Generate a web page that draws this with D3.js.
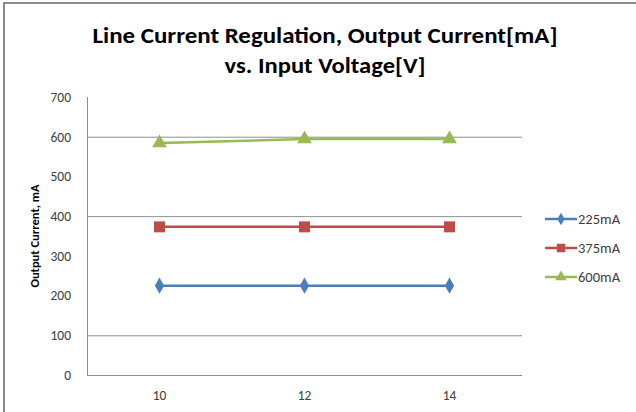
<!DOCTYPE html>
<html><head><meta charset="utf-8">
<script src="https://cdn.jsdelivr.net/npm/d3@7"></script>
<style>
html,body{margin:0;padding:0;background:#fff;}
svg{display:block;}
</style></head>
<body>
<script>
const categories = ["10", "12", "14"];
const seriesNames = ["225mA", "375mA", "600mA"];
const values225 = [225, 225, 225];
const values375 = [373, 373, 373];
const values600 = [584, 594, 594];
const yTicks = [0, 100, 200, 300, 400, 500, 600, 700];
const gridValues = [100, 400, 600];
const titleLines = ["Line Current Regulation, Output Current[mA]", "vs. Input Voltage[V]"];
const yTitle = "Output Current, mA";

const W = 636, H = 412;
const svg = d3.select("body").append("svg").attr("width", W).attr("height", H);

// frame
svg.append("path").attr("d", "M4,412 L4,3 L636,3").attr("fill", "none").attr("stroke", "#8c8c8c").attr("stroke-width", 2);

const plot = {left: 87, right: 522, top: 97, bottom: 375};
const x = d3.scaleBand().domain(categories).range([plot.left, plot.right]);
const y = d3.scaleLinear().domain([0, 700]).range([plot.bottom, plot.top]);

// title
const font = "Carlito, Lato, 'Open Sans', sans-serif";
const titleWidths = [465, 201];
svg.append("g").selectAll("text").data(titleLines).join("text")
  .attr("x", 325).attr("y", (d, i) => 43 + i * 30)
  .attr("text-anchor", "middle")
  .attr("font-family", font).attr("font-weight", "bold").attr("font-size", 23)
  .attr("textLength", (d, i) => titleWidths[i]).attr("lengthAdjust", "spacingAndGlyphs")
  .attr("fill", "#000").text(d => d);

// gridlines
svg.append("g").selectAll("line").data(gridValues).join("line")
  .attr("x1", plot.left).attr("x2", plot.right)
  .attr("y1", d => y(d) + 0.5).attr("y2", d => y(d) + 0.5)
  .attr("stroke", "#8e8e8e").attr("stroke-width", 1);

// y axis
const yAxis = svg.append("g").attr("transform", `translate(${plot.left},0)`)
  .call(d3.axisLeft(y).tickValues(yTicks).tickSize(0).tickPadding(16));
yAxis.select(".domain").attr("stroke", "#8e8e8e").attr("d", `M0.5,${plot.top}V${plot.bottom}`);
yAxis.selectAll("text").attr("font-family", font).attr("font-size", 13.5).attr("fill", "#404040");

// x axis
const xAxis = svg.append("g").attr("transform", `translate(0,${plot.bottom})`)
  .call(d3.axisBottom(x).tickSize(0).tickPadding(15));
xAxis.select(".domain").attr("stroke", "#8e8e8e").attr("d", `M${plot.left},0.5H${plot.right}`);
xAxis.selectAll("text").attr("font-family", font).attr("font-size", 13.5).attr("fill", "#404040");

// y title
svg.append("text").attr("transform", `translate(39,${(plot.top + plot.bottom) / 2}) rotate(-90)`)
  .attr("text-anchor", "middle").attr("font-family", font).attr("font-weight", "bold")
  .attr("font-size", 12.5).attr("fill", "#000").text(yTitle);

const series = [
  {name: seriesNames[0], values: values225, color: "#4a7ebb", shape: d3.symbolDiamond, size: 75},
  {name: seriesNames[1], values: values375, color: "#be4b48", shape: d3.symbolSquare, size: 120},
  {name: seriesNames[2], values: values600, color: "#98b954", shape: d3.symbolTriangle, size: 95}
];
const cx = c => x(c) + x.bandwidth() / 2;
const line = d3.line().x((d, i) => cx(categories[i])).y(d => y(d));

series.forEach(s => {
  svg.append("path").datum(s.values).attr("d", line).attr("fill", "none")
    .attr("stroke", s.color).attr("stroke-width", 2.5);
  svg.append("g").selectAll("path").data(s.values).join("path")
    .attr("transform", (d, i) => `translate(${cx(categories[i])},${y(d)})`)
    .attr("d", d3.symbol().type(s.shape).size(s.size)).attr("fill", s.color);
});

// legend
const lg = svg.append("g").selectAll("g").data(series).join("g")
  .attr("transform", (d, i) => `translate(545,${219 + i * 29})`);
lg.append("line").attr("x1", 0).attr("x2", 32).attr("stroke", d => d.color).attr("stroke-width", 2.5);
lg.append("path").attr("transform", "translate(16,0)")
  .attr("d", d => d3.symbol().type(d.shape).size(d.size * 0.6)()).attr("fill", d => d.color);
lg.append("text").attr("x", 33).attr("dy", "0.35em").attr("font-family", font)
  .attr("font-size", 14.5).attr("fill", "#404040").text(d => d.name);
</script>
</body></html>
